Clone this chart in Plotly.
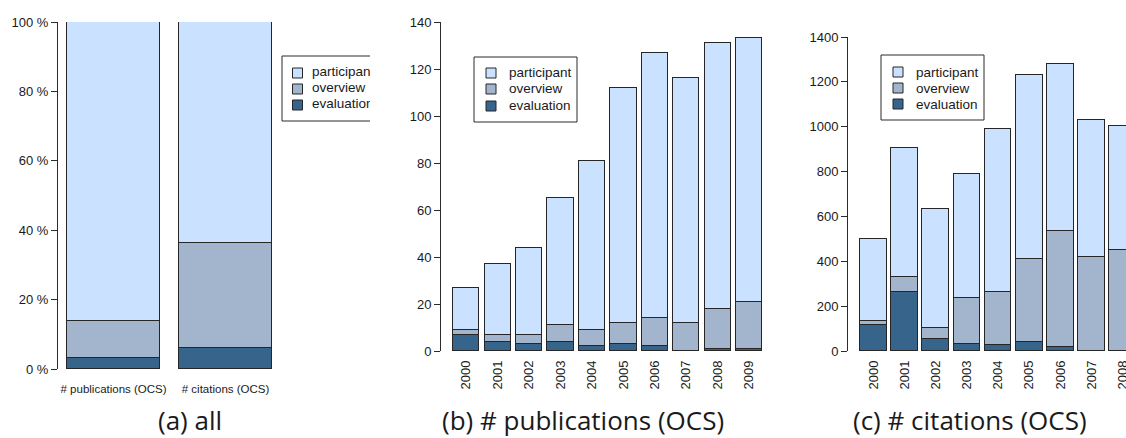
import plotly.graph_objects as go

# ---------------- data ----------------
series_names = ["participant", "overview", "evaluation"]
series_colors = {"participant": "#CAE1FF", "overview": "#A2B5CD", "evaluation": "#36648B"}

# (a) share of each type, in percent
all_categories = ["# publications (OCS)", "# citations (OCS)"]
all_evaluation = [3.1, 6.0]
all_overview = [10.6, 30.4]
all_participant = [86.3, 63.6]

# (b) number of publications per year
pub_years = ["2000", "2001", "2002", "2003", "2004", "2005", "2006", "2007", "2008", "2009"]
pub_evaluation = [7, 4, 3, 4, 2, 3, 2, 0, 1, 1]
pub_overview = [2, 3, 4, 7, 7, 9, 12, 12, 17, 20]
pub_participant = [18, 30, 37, 54, 72, 100, 113, 104, 113, 112]

# (c) number of citations per year
cit_years = ["2000", "2001", "2002", "2003", "2004", "2005", "2006", "2007", "2008"]
cit_evaluation = [115, 265, 55, 30, 28, 38, 18, 0, 2]
cit_overview = [17, 65, 48, 208, 234, 372, 517, 420, 450]
cit_participant = [368, 575, 532, 549, 728, 820, 743, 608, 550]

captions = ["(a) all", "(b) # publications (OCS)", "(c) # citations (OCS)"]

# ---------------- page geometry (pixels) ----------------
W, H = 1126, 438
TXT = "#1a1a1a"
AX = "#2b2b2b"
OUTLINE = "#262626"
FONT = "Liberation Sans, Arial, sans-serif"


def px_x(px):
    return px / W


def px_y(py):
    return 1 - py / H


# plot areas: (left, right, top, bottom) in pixels, with their data ranges
panels = {
    "a": dict(box=(58, 370, 22, 369), xr=(-0.496, 2.29), yr=(0, 100)),
    "b": dict(box=(441, 768, 22, 351), xr=(-0.804, 9.6), yr=(0, 140)),
    "c": dict(box=(848, 1126, 37, 351), xr=(-0.82, 8.11), yr=(0, 1400)),
}

fig = go.Figure()

axis_ids = {"a": ("x", "y"), "b": ("x2", "y2"), "c": ("x3", "y3")}
stacks = {
    "a": (all_categories, all_evaluation, all_overview, all_participant, 0.83),
    "b": (pub_years, pub_evaluation, pub_overview, pub_participant, 0.84),
    "c": (cit_years, cit_evaluation, cit_overview, cit_participant, 0.86),
}

for key, (cats, ev, ov, pa, bw) in stacks.items():
    xa, ya = axis_ids[key]
    for name, vals in (("evaluation", ev), ("overview", ov), ("participant", pa)):
        fig.add_trace(go.Bar(
            x=cats, y=vals, name=name, xaxis=xa, yaxis=ya, width=bw,
            marker=dict(color=series_colors[name], line=dict(color=OUTLINE, width=1)),
            showlegend=False, hoverinfo="skip",
        ))

layout_axes = {}
for key, (xa, ya) in axis_ids.items():
    p = panels[key]
    l, r, t, b = p["box"]
    xname = "xaxis" if xa == "x" else "xaxis" + xa[1:]
    yname = "yaxis" if ya == "y" else "yaxis" + ya[1:]
    cats = stacks[key][0]
    layout_axes[xname] = dict(
        domain=[px_x(l), px_x(r)], range=list(p["xr"]), anchor=ya,
        type="category", categoryorder="array", categoryarray=cats,
        showline=False, showgrid=False, zeroline=False, ticks="",
        tickangle=0 if key == "a" else -90,
        tickfont=dict(family=FONT, size=11.5 if key == "a" else 13, color=TXT),
        ticklabelstandoff=11 if key == "a" else 6,
        automargin=False, fixedrange=True,
    )
    layout_axes[yname] = dict(
        domain=[px_y(b), px_y(t)], range=list(p["yr"]), anchor=xa,
        showline=True, linecolor=AX, linewidth=1, ticks="outside", ticklen=6,
        tickcolor=AX, tickwidth=1, showgrid=False, zeroline=False,
        tickfont=dict(family=FONT, size=13, color=TXT),
        dtick=20 if key == "a" else (20 if key == "b" else 200),
        ticksuffix=" %" if key == "a" else "",
        automargin=False, fixedrange=True,
    )

# overlay axes on panel (a) in pixel units, used to clip its legend labels
la, lr, lt, lb = panels["a"]["box"]
layout_axes["xaxis4"] = dict(overlaying="x", range=[la, lr], anchor="y4",
                             visible=False, automargin=False, fixedrange=True)
layout_axes["yaxis4"] = dict(overlaying="y", range=[lb, lt], anchor="x4",
                             visible=False, automargin=False, fixedrange=True)

shapes = []
annotations = []

# legends: box, colour squares and labels
legend_geo = {
    # box left, right, top, bottom ; square centre x ; text start x ; row centres y
    "a": dict(box=(282, None, 56, 121), sq=297.5, tx=312, rows=(73, 89, 105)),
    "b": dict(box=(474, 577, 57, 122), sq=491, tx=507, rows=(73, 89, 106)),
    "c": dict(box=(881, 984, 55, 120), sq=898, tx=914, rows=(72, 88, 104)),
}
LEGEND_FONT = 13.5

for key, g in legend_geo.items():
    l, r, t, b = g["box"]
    if r is None:
        # box runs past the panel edge: only draw the visible edges
        r = panels[key]["box"][1]
        for x0, y0, x1, y1 in ((l, t, r, t), (l, b, r, b), (l, t, l, b)):
            shapes.append(dict(type="line", xref="paper", yref="paper",
                               x0=px_x(x0), y0=px_y(y0), x1=px_x(x1), y1=px_y(y1),
                               line=dict(color=AX, width=1), layer="above"))
    else:
        shapes.append(dict(type="rect", xref="paper", yref="paper",
                           x0=px_x(l), y0=px_y(t), x1=px_x(r), y1=px_y(b),
                           line=dict(color=AX, width=1), fillcolor="white", layer="above"))
    for name, cy in zip(series_names, g["rows"]):
        cx = g["sq"]
        shapes.append(dict(type="rect", xref="paper", yref="paper",
                           x0=px_x(cx - 5), y0=px_y(cy - 5), x1=px_x(cx + 5), y1=px_y(cy + 5),
                           line=dict(color=OUTLINE, width=1), fillcolor=series_colors[name],
                           layer="above"))
    if key == "a":
        # labels clipped at the edge of panel (a)
        fig.add_trace(go.Scatter(
            x=[g["tx"]] * 3, y=list(g["rows"]),
            xaxis="x4", yaxis="y4", mode="text", text=series_names,
            textposition="middle right", cliponaxis=True,
            textfont=dict(family=FONT, size=LEGEND_FONT, color=TXT),
            showlegend=False, hoverinfo="skip",
        ))
    else:
        for name, cy in zip(series_names, g["rows"]):
            annotations.append(dict(
                xref="paper", yref="paper", x=px_x(g["tx"]), y=px_y(cy),
                xanchor="left", yanchor="middle", showarrow=False, text=name,
                font=dict(family=FONT, size=LEGEND_FONT, color=TXT),
            ))

# panel captions
for text, cx in zip(captions, (190, 583, 970)):
    annotations.append(dict(
        xref="paper", yref="paper", x=px_x(cx), y=px_y(420),
        xanchor="center", yanchor="middle", showarrow=False, text=text,
        font=dict(family="Open Sans, Noto Sans, sans-serif", size=26, color=TXT),
    ))

fig.update_layout(
    width=W, height=H, margin=dict(l=0, r=0, t=0, b=0, pad=0),
    paper_bgcolor="white", plot_bgcolor="white",
    barmode="stack", bargap=0, showlegend=False,
    shapes=shapes, annotations=annotations,
    **layout_axes,
)

fig.write_html("out.html", config={"displayModeBar": False})
